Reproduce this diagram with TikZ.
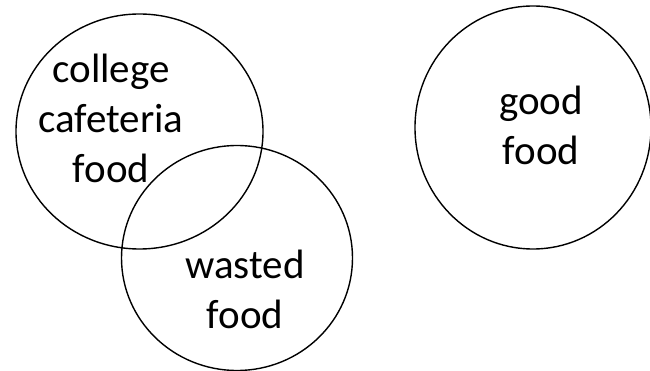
\documentclass[tikz,border=0pt]{standalone}
\usepackage{fontspec}
\setmainfont{Carlito}
\usetikzlibrary{shapes.geometric}

\begin{document}
\begin{tikzpicture}[
    x = 1pt,
    y = -1pt,
    line width = 1.4pt,
    set/.style = {ellipse, draw, inner sep = 0pt},
    label/.style = {align = center, inner sep = 0pt, font = \fontsize{41}{50}\selectfont}
  ]
    \useasboundingbox (0, 0) rectangle (650, 371);
    \node[set, minimum width = 247pt, minimum height = 235pt] (cafeteria) at (139.5, 131.5) {};
    \node[set, minimum width = 231pt, minimum height = 225pt] (wasted) at (237, 258) {};
    \node[set, minimum width = 236pt, minimum height = 243pt] (good) at (533, 127.5) {};
    \node[label] (cafeteria_text) at (111, 118.5) {college\\cafeteria\\food};
    \node[label] (wasted_text) at (245, 289) {wasted\\food};
    \node[label] (good_text) at (541, 125) {good\\food};
  \end{tikzpicture}
\end{document}
